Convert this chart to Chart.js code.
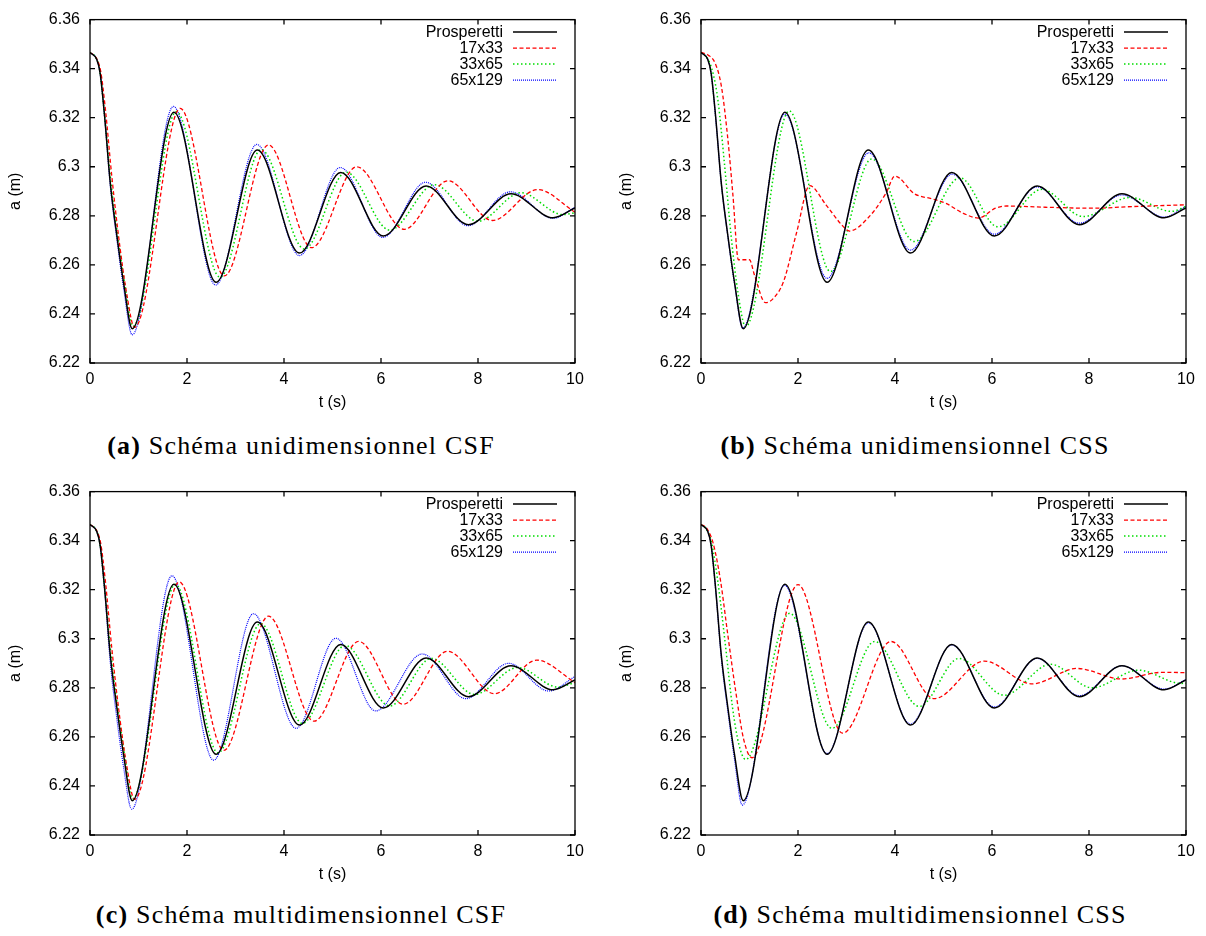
<!DOCTYPE html>
<html>
<head>
<meta charset="utf-8">
<script src="https://cdn.jsdelivr.net/npm/chart.js@4.4.0/dist/chart.umd.min.js"></script>
<style>
  body { margin: 0; background: #fff; }
  #page { position: relative; width: 1206px; height: 936px; overflow: hidden; }
  .panel { position: absolute; }
  .cap {
    position: absolute; width: 600px; height: 30px; line-height: 30px;
    text-align: center; font-family: 'Liberation Serif', 'Times New Roman', serif;
    font-size: 26px; letter-spacing: 1.2px; color: #000; white-space: nowrap;
  }
  .cap b { font-weight: bold; }
</style>
</head>
<body>
<div id="page">
  <canvas id="cA" class="panel" width="603" height="420" style="left:0;top:0"></canvas>
  <canvas id="cB" class="panel" width="595" height="420" style="left:611px;top:0"></canvas>
  <canvas id="cC" class="panel" width="603" height="420" style="left:0;top:472px"></canvas>
  <canvas id="cD" class="panel" width="595" height="420" style="left:611px;top:472px"></canvas>
  <div class="cap" style="left:1px;top:431px"><b>(a)</b> Schéma unidimensionnel CSF</div>
  <div class="cap" style="left:615px;top:431px"><b>(b)</b> Schéma unidimensionnel CSS</div>
  <div class="cap" style="left:1px;top:900px"><b>(c)</b> Schéma multidimensionnel CSF</div>
  <div class="cap" style="left:620px;top:900px"><b>(d)</b> Schéma multidimensionnel CSS</div>
</div>
<script>
// axis ticks
var tTicks = [0, 2, 4, 6, 8, 10];
var aTicks = [6.22, 6.24, 6.26, 6.28, 6.3, 6.32, 6.34, 6.36];
var seriesNames = ['Prosperetti', '17x33', '33x65', '65x129'];

// Prosperetti (analytic, same on every panel)
var prosT = [0, 0.14, 0.21, 0.3, 0.42, 0.55, 0.69, 0.87, 1.73, 2.6, 3.45, 4.32, 5.17, 6.05, 6.93, 7.8, 8.68, 9.55, 10];
var prosA = [6.3466, 6.3437, 6.338, 6.3208, 6.293, 6.2725, 6.253, 6.234, 6.3222, 6.2529, 6.3068, 6.2648, 6.2977, 6.2718, 6.2922, 6.2764, 6.289, 6.2792, 6.2832];

// (a) unidimensionnel CSF
var uCsf17T = [0, 0.14, 0.22, 0.32, 0.45, 0.6, 0.75, 0.92, 1.86, 2.77, 3.68, 4.57, 5.5, 6.48, 7.38, 8.3, 9.23, 10];
var uCsf17A = [6.3466, 6.344, 6.339, 6.323, 6.296, 6.27, 6.249, 6.2345, 6.3238, 6.2555, 6.3089, 6.267, 6.3, 6.2745, 6.2943, 6.2781, 6.2907, 6.2815];
var uCsf33T = [0, 0.14, 0.21, 0.3, 0.43, 0.56, 0.7, 0.89, 1.78, 2.68, 3.53, 4.42, 5.28, 6.18, 7.1, 8.0, 8.88, 9.75, 10];
var uCsf33A = [6.3466, 6.3438, 6.3382, 6.3212, 6.294, 6.2735, 6.2545, 6.235, 6.3225, 6.255, 6.307, 6.2665, 6.2978, 6.2742, 6.2927, 6.2778, 6.2894, 6.2805, 6.2812];
var uCsf65T = [0, 0.14, 0.21, 0.3, 0.42, 0.55, 0.69, 0.87, 1.72, 2.59, 3.44, 4.32, 5.16, 6.04, 6.92, 7.79, 8.67, 9.55, 10];
var uCsf65A = [6.3466, 6.3437, 6.338, 6.3205, 6.292, 6.271, 6.251, 6.2315, 6.3246, 6.2518, 6.3091, 6.2638, 6.2997, 6.2712, 6.2937, 6.276, 6.2898, 6.279, 6.2835];

// (b) unidimensionnel CSS
var uCss17T = [0, 0.15, 0.29, 0.42, 0.55, 0.66, 0.77, 1.0, 1.1, 1.33, 1.5, 1.7, 1.97, 2.24, 2.58, 2.93, 3.06, 3.47, 3.81, 4.0, 4.4, 4.77, 5.05, 5.4, 5.72, 6.07, 6.3, 7.1, 8.1, 8.8, 10];
var uCss17A = [6.3466, 6.3455, 6.3423, 6.3329, 6.312, 6.288, 6.2621, 6.2621, 6.256, 6.2446, 6.2465, 6.2531, 6.2731, 6.2923, 6.2844, 6.2757, 6.2738, 6.2797, 6.2891, 6.2962, 6.289, 6.2869, 6.2851, 6.2811, 6.2791, 6.2831, 6.284, 6.2835, 6.2831, 6.2837, 6.2845];
var uCss33T = [0, 0.14, 0.25, 0.35, 0.48, 0.62, 0.76, 0.92, 1.82, 2.67, 3.52, 4.4, 5.34, 6.12, 7.03, 7.88, 8.85, 9.7, 10];
var uCss33A = [6.3466, 6.344, 6.338, 6.327, 6.302, 6.272, 6.249, 6.2348, 6.3228, 6.2573, 6.3032, 6.2695, 6.2955, 6.2755, 6.2908, 6.2797, 6.2875, 6.2818, 6.2838];
var uCss65T = [0, 0.14, 0.21, 0.3, 0.42, 0.55, 0.69, 0.86, 1.73, 2.6, 3.46, 4.32, 5.18, 6.05, 6.93, 7.8, 8.68, 9.55, 10];
var uCss65A = [6.3466, 6.3437, 6.338, 6.3205, 6.293, 6.272, 6.2525, 6.2342, 6.3215, 6.2545, 6.3057, 6.266, 6.297, 6.2725, 6.2918, 6.277, 6.2885, 6.2795, 6.2838];

// (c) multidimensionnel CSF
var mCsf17T = [0, 0.14, 0.22, 0.32, 0.45, 0.6, 0.75, 0.92, 1.84, 2.76, 3.68, 4.62, 5.54, 6.46, 7.37, 8.34, 9.21, 10];
var mCsf17A = [6.3466, 6.344, 6.339, 6.323, 6.296, 6.27, 6.249, 6.2345, 6.3232, 6.2545, 6.3092, 6.2664, 6.2989, 6.2733, 6.2949, 6.2776, 6.2913, 6.2822];
var mCsf33T = [0, 0.14, 0.21, 0.3, 0.43, 0.56, 0.7, 0.88, 1.76, 2.64, 3.52, 4.38, 5.26, 6.18, 7.04, 7.93, 8.82, 9.65, 10];
var mCsf33A = [6.3466, 6.3438, 6.3382, 6.3212, 6.294, 6.2735, 6.2545, 6.2348, 6.3222, 6.2535, 6.3062, 6.2655, 6.2973, 6.2726, 6.292, 6.2773, 6.2883, 6.2803, 6.2822];
var mCsf65T = [0, 0.14, 0.21, 0.3, 0.42, 0.55, 0.69, 0.86, 1.69, 2.55, 3.37, 4.25, 5.07, 5.89, 6.85, 7.75, 8.63, 9.46, 10];
var mCsf65A = [6.3466, 6.3437, 6.338, 6.32, 6.29, 6.268, 6.248, 6.2305, 6.3257, 6.2505, 6.3102, 6.2635, 6.3002, 6.2706, 6.2938, 6.2756, 6.29, 6.2787, 6.2846];

// (d) multidimensionnel CSS
var mCss17T = [0, 0.12, 0.25, 0.4, 0.55, 0.72, 0.88, 1.05, 2.0, 2.92, 3.92, 4.81, 5.84, 6.83, 7.75, 8.67, 9.5, 10];
var mCss17A = [6.3466, 6.345, 6.339, 6.324, 6.302, 6.278, 6.259, 6.2515, 6.3221, 6.2615, 6.2989, 6.2756, 6.2909, 6.2816, 6.2879, 6.2836, 6.2863, 6.2862];
var mCss33T = [0, 0.12, 0.22, 0.35, 0.5, 0.65, 0.78, 0.92, 1.83, 2.7, 3.58, 4.5, 5.32, 6.25, 7.21, 8.06, 9.02, 9.9, 10];
var mCss33A = [6.3466, 6.3445, 6.339, 6.323, 6.298, 6.272, 6.257, 6.2508, 6.3104, 6.2635, 6.2989, 6.2724, 6.292, 6.277, 6.2896, 6.28, 6.2872, 6.2818, 6.2819];
var mCss65T = [0, 0.14, 0.21, 0.3, 0.42, 0.55, 0.69, 0.85, 1.72, 2.6, 3.45, 4.32, 5.17, 6.05, 6.93, 7.8, 8.68, 9.55, 10];
var mCss65A = [6.3466, 6.3437, 6.338, 6.3205, 6.292, 6.271, 6.251, 6.2322, 6.3218, 6.2532, 6.3065, 6.2652, 6.2975, 6.2722, 6.292, 6.2768, 6.289, 6.2795, 6.2834];

// gnuplot-ish line styles: Prosperetti, 17x33, 33x65, 65x129
var lineColors = ['#000000', '#ff0000', '#00dd00', '#0000ff'];
var lineDashes = [[], [4, 2.5], [1.5, 2.5], [1, 1]];
var lineWidths = [1.5, 1.3, 1.5, 1.2];

function pts(ts, as) {
    return ts.map(function (t, i) { return {x: t, y: as[i]}; });
}

Chart.defaults.font.family = "'Liberation Sans', Arial, sans-serif";
Chart.defaults.font.size = 16;
Chart.defaults.color = '#000';

// box with inward ticks on all four sides + legend inside the top right corner
var gnuplotFrame = {
    id: 'gnuplotFrame',
    afterDraw: function (chart) {
        var ctx = chart.ctx, ca = chart.chartArea;
        var xs = chart.scales.x, ys = chart.scales.y;
        ctx.save();
        ctx.strokeStyle = '#000';
        ctx.lineWidth = 1.3;
        ctx.strokeRect(ca.left, ca.top, ca.right - ca.left, ca.bottom - ca.top);
        ctx.beginPath();
        tTicks.forEach(function (v) {
            var px = xs.getPixelForValue(v);
            ctx.moveTo(px, ca.bottom); ctx.lineTo(px, ca.bottom - 5);
            ctx.moveTo(px, ca.top); ctx.lineTo(px, ca.top + 5);
        });
        aTicks.forEach(function (v) {
            var py = ys.getPixelForValue(v);
            ctx.moveTo(ca.left, py); ctx.lineTo(ca.left + 5, py);
            ctx.moveTo(ca.right, py); ctx.lineTo(ca.right - 5, py);
        });
        ctx.stroke();

        ctx.font = "16px 'Liberation Sans', Arial, sans-serif";
        ctx.textAlign = 'right';
        ctx.textBaseline = 'middle';
        chart.data.datasets.forEach(function (ds, i) {
            var yy = ca.top + 12.5 + i * 16;
            ctx.fillStyle = '#000';
            ctx.fillText(ds.label, ca.right - 72, yy);
            ctx.beginPath();
            ctx.strokeStyle = ds.borderColor;
            ctx.lineWidth = ds.borderWidth;
            ctx.setLineDash(ds.borderDash);
            ctx.moveTo(ca.right - 62, yy);
            ctx.lineTo(ca.right - 18, yy);
            ctx.stroke();
            ctx.setLineDash([]);
        });
        ctx.restore();
    }
};

function makePanel(id, padRight, series) {
    var datasets = series.map(function (s, i) {
        return {
            label: seriesNames[i],
            data: pts(s[0], s[1]),
            borderColor: lineColors[i],
            borderDash: lineDashes[i],
            borderWidth: lineWidths[i],
            pointRadius: 0,
            fill: false,
            cubicInterpolationMode: 'monotone'
        };
    });
    new Chart(document.getElementById(id), {
        type: 'line',
        data: {datasets: datasets},
        options: {
            responsive: false,
            animation: false,
            layout: {padding: {top: 12, right: padRight, bottom: 0, left: 0}},
            plugins: {legend: {display: false}, tooltip: {enabled: false}},
            scales: {
                x: {
                    type: 'linear', min: 0, max: 10,
                    grid: {display: false, drawTicks: false},
                    border: {display: false},
                    ticks: {padding: 7, maxRotation: 0, autoSkip: false},
                    afterBuildTicks: function (s) { s.ticks = tTicks.map(function (v) { return {value: v}; }); },
                    afterFit: function (s) { s.height = 57; },
                    title: {display: true, text: 't (s)', padding: {top: 4, bottom: 8}}
                },
                y: {
                    type: 'linear', min: 6.22, max: 6.36,
                    grid: {display: false, drawTicks: false},
                    border: {display: false},
                    ticks: {padding: 10, callback: function (v) { return String(v); }},
                    afterBuildTicks: function (s) { s.ticks = aTicks.map(function (v) { return {value: v}; }); },
                    afterFit: function (s) { s.width = 90; },
                    title: {display: true, text: 'a (m)', padding: {top: 6, bottom: 0}}
                }
            }
        },
        plugins: [gnuplotFrame]
    });
}

makePanel('cA', 28, [[prosT, prosA], [uCsf17T, uCsf17A], [uCsf33T, uCsf33A], [uCsf65T, uCsf65A]]);
makePanel('cB', 20, [[prosT, prosA], [uCss17T, uCss17A], [uCss33T, uCss33A], [uCss65T, uCss65A]]);
makePanel('cC', 28, [[prosT, prosA], [mCsf17T, mCsf17A], [mCsf33T, mCsf33A], [mCsf65T, mCsf65A]]);
makePanel('cD', 20, [[prosT, prosA], [mCss17T, mCss17A], [mCss33T, mCss33A], [mCss65T, mCss65A]]);
</script>
</body>
</html>
